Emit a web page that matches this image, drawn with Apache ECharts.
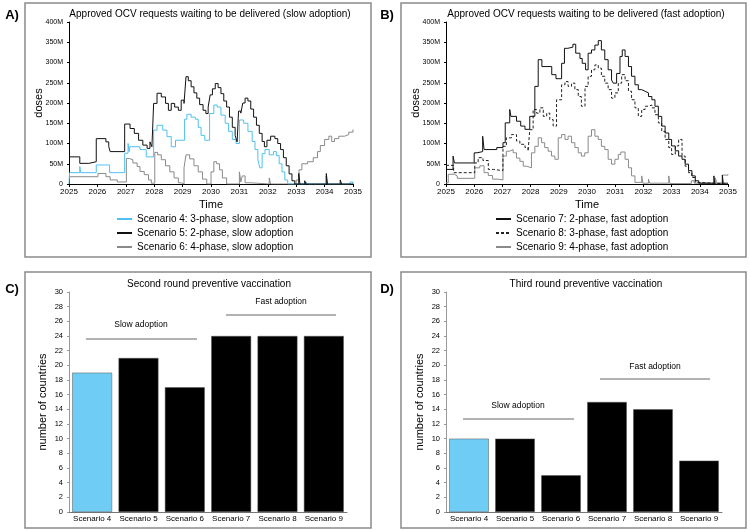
<!DOCTYPE html>
<html>
<head>
<meta charset="utf-8">
<script src="https://cdn.jsdelivr.net/npm/echarts@6/dist/echarts.min.js"></script>
<style>
  html, body { margin: 0; padding: 0; background: #fff; }
  #chart { width: 750px; height: 532px; }
</style>
</head>
<body>
<div id="chart"></div>
<script>
// values, doses in millions, time in years
var s4 = [[2025.0,0],[2025.02,28],[2025.38,43],[2025.41,28],[2025.96,47],[2026.43,28],[2026.96,76],[2027.08,100],[2027.12,80],[2027.14,92],[2027.5,85],[2027.72,67],[2027.98,133],[2028.1,145],[2028.3,133],[2028.45,117],[2028.6,92],[2028.75,108],[2029.07,160],[2029.15,172],[2029.3,165],[2029.45,160],[2029.55,140],[2029.65,120],[2029.78,108],[2029.95,174],[2030.1,195],[2030.22,190],[2030.35,170],[2030.5,150],[2030.62,130],[2030.75,110],[2030.88,100],[2031.0,158],[2031.15,150],[2031.3,130],[2031.45,105],[2031.55,85],[2031.65,60],[2031.72,40],[2031.8,75],[2031.9,85],[2032.05,72],[2032.2,80],[2032.3,70],[2032.4,50],[2032.5,30],[2032.6,10],[2032.7,0],[2033.35,5],[2033.4,0],[2034.05,20],[2034.1,0],[2034.9,5],[2035,0]];
var s5 = [[2025.0,67],[2025.38,51],[2025.7,55],[2025.96,112],[2026.3,104],[2026.4,92],[2026.45,80],[2026.96,148],[2027.15,137],[2027.3,125],[2027.45,108],[2027.6,96],[2027.75,88],[2027.85,104],[2027.92,92],[2027.98,199],[2028.1,224],[2028.25,215],[2028.4,199],[2028.5,182],[2028.6,199],[2028.72,190],[2028.85,182],[2028.95,207],[2029.05,199],[2029.12,265],[2029.2,255],[2029.3,240],[2029.4,225],[2029.5,212],[2029.6,196],[2029.72,182],[2029.82,174],[2029.9,190],[2029.97,220],[2030.05,235],[2030.15,248],[2030.25,238],[2030.35,223],[2030.45,205],[2030.55,190],[2030.65,165],[2030.75,140],[2030.85,120],[2030.92,104],[2030.97,180],[2031.05,175],[2031.12,200],[2031.2,212],[2031.3,205],[2031.4,185],[2031.5,165],[2031.6,145],[2031.7,125],[2031.8,105],[2031.88,92],[2031.97,108],[2032.1,118],[2032.25,112],[2032.35,100],[2032.45,85],[2032.55,65],[2032.65,45],[2032.75,25],[2032.85,8],[2032.95,0],[2033.09,26],[2033.13,0],[2033.3,8],[2033.34,0],[2034.06,26],[2034.1,0],[2034.55,10],[2034.6,0],[2035,0]];
var s6 = [[2025.0,18],[2026.02,26],[2026.3,18],[2026.45,10],[2026.7,5],[2027.02,63],[2027.12,60],[2027.25,52],[2027.4,43],[2027.5,31],[2027.65,23],[2027.8,10],[2027.9,2],[2028.02,78],[2028.12,72],[2028.25,60],[2028.4,45],[2028.55,30],[2028.7,15],[2028.85,3],[2028.95,0],[2029.05,40],[2029.12,72],[2029.25,62],[2029.4,45],[2029.55,30],[2029.7,12],[2029.85,0],[2030.0,30],[2030.1,55],[2030.2,50],[2030.3,35],[2030.4,15],[2030.55,0],[2031.0,30],[2031.05,5],[2031.1,20],[2031.2,3],[2031.4,0],[2032.05,15],[2032.1,0],[2033.0,10],[2033.1,35],[2033.2,50],[2033.4,55],[2033.6,65],[2033.75,80],[2033.85,95],[2034.0,110],[2034.15,118],[2034.25,105],[2034.35,112],[2034.5,118],[2034.7,122],[2034.85,128],[2035.0,135]];

var s7 = [[2025.0,36],[2025.25,69],[2025.3,52],[2026.0,77],[2026.1,80],[2026.3,118],[2026.35,85],[2026.8,90],[2027.02,102],[2027.1,151],[2027.26,184],[2027.3,167],[2027.5,155],[2027.65,143],[2027.8,135],[2027.97,167],[2028.15,241],[2028.27,307],[2028.4,290],[2028.75,270],[2028.9,260],[2029.1,298],[2029.2,335],[2029.32,338],[2029.5,345],[2029.6,323],[2029.75,310],[2029.83,298],[2029.95,282],[2030.04,323],[2030.16,331],[2030.28,343],[2030.4,354],[2030.51,331],[2030.63,307],[2030.75,282],[2030.87,257],[2030.93,249],[2031.05,273],[2031.17,315],[2031.25,331],[2031.35,315],[2031.47,290],[2031.58,266],[2031.7,245],[2031.82,233],[2031.94,229],[2032.06,225],[2032.18,216],[2032.3,208],[2032.41,192],[2032.53,167],[2032.65,143],[2032.77,126],[2032.9,110],[2033.0,94],[2033.13,82],[2033.25,69],[2033.37,61],[2033.48,49],[2033.6,33],[2033.72,20],[2033.84,8],[2033.96,2],[2034.5,20],[2034.53,0],[2034.8,22],[2034.83,2],[2035.0,3]];
var s8 = [[2025.0,46],[2025.27,28],[2026.02,52],[2026.14,65],[2026.31,58],[2026.5,36],[2026.68,33],[2027.02,93],[2027.14,114],[2027.32,122],[2027.5,106],[2027.62,98],[2027.8,90],[2027.91,81],[2027.97,134],[2028.09,184],[2028.21,175],[2028.33,188],[2028.45,167],[2028.57,175],[2028.68,159],[2028.8,143],[2028.92,208],[2029.1,245],[2029.22,253],[2029.33,241],[2029.45,249],[2029.57,233],[2029.69,216],[2029.8,192],[2029.93,241],[2030.04,266],[2030.16,282],[2030.28,294],[2030.4,286],[2030.51,266],[2030.63,249],[2030.75,233],[2030.87,212],[2030.99,225],[2031.11,249],[2031.23,270],[2031.35,255],[2031.47,229],[2031.58,208],[2031.7,188],[2031.82,167],[2031.94,184],[2032.06,192],[2032.18,195],[2032.3,188],[2032.41,171],[2032.53,151],[2032.65,130],[2032.77,110],[2032.9,90],[2033.0,73],[2033.13,94],[2033.25,110],[2033.37,69],[2033.48,44],[2033.6,28],[2033.72,16],[2033.84,4],[2033.96,0],[2035,0]];
var s9 = [[2025.0,3],[2025.08,24],[2025.3,20],[2025.4,14],[2026.02,40],[2026.2,45],[2026.35,28],[2026.5,21],[2026.65,12],[2026.85,10],[2027.02,69],[2027.14,81],[2027.26,85],[2027.38,77],[2027.5,64],[2027.62,56],[2027.74,44],[2027.86,40],[2028.03,77],[2028.15,93],[2028.27,114],[2028.39,102],[2028.5,90],[2028.62,81],[2028.74,69],[2028.86,61],[2028.98,114],[2029.1,122],[2029.22,110],[2029.33,118],[2029.45,102],[2029.57,90],[2029.69,77],[2029.8,69],[2029.92,77],[2030.04,118],[2030.16,134],[2030.28,118],[2030.4,110],[2030.51,93],[2030.63,85],[2030.75,61],[2030.87,49],[2030.99,61],[2031.11,73],[2031.2,79],[2031.35,61],[2031.47,40],[2031.58,20],[2031.7,4],[2031.94,20],[2031.98,2],[2032.18,12],[2032.22,2],[2032.9,20],[2032.94,1],[2033.7,8],[2033.8,2],[2034.55,15],[2034.6,3],[2034.8,22],[2035,24]];

var scenarios = ['Scenario 4','Scenario 5','Scenario 6','Scenario 7','Scenario 8','Scenario 9'];
var secondRound = [19, 21, 17, 24, 24, 24];
var thirdRound = [10, 10, 5, 15, 14, 7];

var FONT = '"Liberation Sans", Arial, sans-serif';
var CYAN = '#6fcdf5';
var GREY = '#8a8a8a';

function timeAxisX(idx){
	return {
		type: 'value', gridIndex: idx, min: 2025, max: 2035, interval: 1,
		name: 'Time', nameLocation: 'middle', nameGap: 15, nameMoveOverlap: false,
		nameTextStyle: { fontFamily: FONT, fontSize: 11, color: '#000' },
		axisLine: { lineStyle: { color: '#000', width: 1 } },
		axisTick: { length: 3, lineStyle: { color: '#000' } },
		axisLabel: { fontFamily: FONT, fontSize: 8, color: '#000', margin: 4,
			formatter: function(v){ return String(v); } },
		splitLine: { show: false }
	};
}
function dosesAxisY(idx){
	return {
		type: 'value', gridIndex: idx, min: 0, max: 400, interval: 50,
		name: 'doses', nameLocation: 'middle', nameGap: 25, nameMoveOverlap: false,
		nameTextStyle: { fontFamily: FONT, fontSize: 11, color: '#000' },
		axisLine: { show: true, lineStyle: { color: '#000', width: 1 } },
		axisTick: { show: true, length: 2, lineStyle: { color: '#000' } },
		axisLabel: { fontFamily: FONT, fontSize: 7, color: '#000', margin: 6,
			formatter: function(v){ return v ? v + 'M' : '0'; } },
		splitLine: { show: false }
	};
}
function catAxisX(idx){
	return {
		type: 'category', gridIndex: idx, data: scenarios,
		axisLine: { lineStyle: { color: '#777', width: 1 } },
		axisTick: { show: false },
		axisLabel: { fontFamily: FONT, fontSize: 8, color: '#000', margin: 3, interval: 0 }
	};
}
function countAxisY(idx){
	return {
		type: 'value', gridIndex: idx, min: 0, max: 30, interval: 2,
		name: 'number of countries', nameLocation: 'middle', nameGap: 21, nameMoveOverlap: false,
		nameTextStyle: { fontFamily: FONT, fontSize: 11, color: '#000' },
		axisLine: { show: true, lineStyle: { color: '#999', width: 1 } },
		axisTick: { show: true, length: 2, lineStyle: { color: '#999' } },
		axisLabel: { fontFamily: FONT, fontSize: 7.5, color: '#000', margin: 6 },
		splitLine: { show: false }
	};
}
function lineSeries(name, data, idx, color, type, z){
	return {
		name: name, type: 'line', step: 'end', data: data,
		xAxisIndex: idx, yAxisIndex: idx, symbol: 'none', z: z,
		lineStyle: { color: color, width: 1, type: type || 'solid' },
		itemStyle: { color: color },
		animation: false
	};
}
function barSeries(data, idx){
	return {
		type: 'bar', data: data, xAxisIndex: idx, yAxisIndex: idx,
		barCategoryGap: '14%',
		itemStyle: { color: function(p){ return p.dataIndex === 0 ? CYAN : '#000'; },
			borderColor: '#555', borderWidth: 0.5 },
		animation: false
	};
}
function txt(x, y, s, size, bold){
	return { type: 'text', x: x, y: y, style: { text: s, fontFamily: FONT, fontSize: size,
		fontWeight: bold ? 'bold' : 'normal', fill: '#000', align: 'center', verticalAlign: 'middle' } };
}
function box(x, y, w, h){
	return { type: 'rect', shape: { x: x, y: y, width: w, height: h },
		style: { fill: 'none', stroke: '#8a8a8a', lineWidth: 1.5 }, silent: true };
}
function hline(x1, x2, y){
	return { type: 'line', shape: { x1: x1, y1: y, x2: x2, y2: y },
		style: { stroke: '#666', lineWidth: 1 } };
}

var legendText = { fontFamily: FONT, fontSize: 10, color: '#000', lineHeight: 10 };

var option = {
	backgroundColor: '#fff',
	animation: false,
	grid: [
		{ left: 69, right: 397, top: 22, bottom: 348 },
		{ left: 446, right: 22, top: 22, bottom: 348 },
		{ left: 69, right: 403, top: 292, bottom: 20 },
		{ left: 446, right: 28, top: 292, bottom: 20 }
	],
	xAxis: [ timeAxisX(0), timeAxisX(1), catAxisX(2), catAxisX(3) ],
	yAxis: [ dosesAxisY(0), dosesAxisY(1), countAxisY(2), countAxisY(3) ],
	legend: [
		{ orient: 'vertical', left: 111, top: 209, itemWidth: 15, itemHeight: 8, itemGap: 4,
		  data: ['Scenario 4: 3-phase, slow adoption','Scenario 5: 2-phase, slow adoption','Scenario 6: 4-phase, slow adoption'],
		  itemStyle: { opacity: 0 },
		  textStyle: legendText, selectedMode: false },
		{ orient: 'vertical', left: 490, top: 209, itemWidth: 15, itemHeight: 8, itemGap: 4,
		  data: ['Scenario 7: 2-phase, fast adoption','Scenario 8: 3-phase, fast adoption','Scenario 9: 4-phase, fast adoption'],
		  itemStyle: { opacity: 0 },
		  textStyle: legendText, selectedMode: false }
	],
	series: [
		lineSeries('Scenario 6: 4-phase, slow adoption', s6, 0, GREY, 'solid', 2),
		lineSeries('Scenario 4: 3-phase, slow adoption', s4, 0, '#4fc1f2', 'solid', 3),
		lineSeries('Scenario 5: 2-phase, slow adoption', s5, 0, '#111', 'solid', 4),
		lineSeries('Scenario 9: 4-phase, fast adoption', s9, 1, GREY, 'solid', 2),
		lineSeries('Scenario 8: 3-phase, fast adoption', s8, 1, '#222', [3, 2], 3),
		lineSeries('Scenario 7: 2-phase, fast adoption', s7, 1, '#111', 'solid', 4),
		barSeries(secondRound, 2),
		barSeries(thirdRound, 3)
	],
	graphic: [
		box(25, 3, 346, 254),
		box(401, 3, 345, 254),
		box(25, 272, 346, 256),
		box(401, 272, 345, 256),
		txt(12, 15, 'A)', 13, true),
		txt(387, 15, 'B)', 13, true),
		txt(12, 289, 'C)', 13, true),
		txt(387, 289, 'D)', 13, true),
		txt(210, 14, 'Approved OCV requests waiting to be delivered (slow adoption)', 10),
		txt(586, 14, 'Approved OCV requests waiting to be delivered (fast adoption)', 10),
		txt(209, 284, 'Second round preventive vaccination', 10),
		txt(586, 284, 'Third round preventive vaccination', 10),
		txt(141, 325, 'Slow adoption', 8.5),
		hline(86, 197, 339),
		txt(281, 302, 'Fast adoption', 8.5),
		hline(226, 336, 315),
		txt(518, 406, 'Slow adoption', 8.5),
		hline(463, 574, 419),
		txt(655, 367, 'Fast adoption', 8.5),
		hline(600, 710, 379)
	]
};

var chart = echarts.init(document.getElementById('chart'));
chart.setOption(option);
</script>
</body>
</html>
